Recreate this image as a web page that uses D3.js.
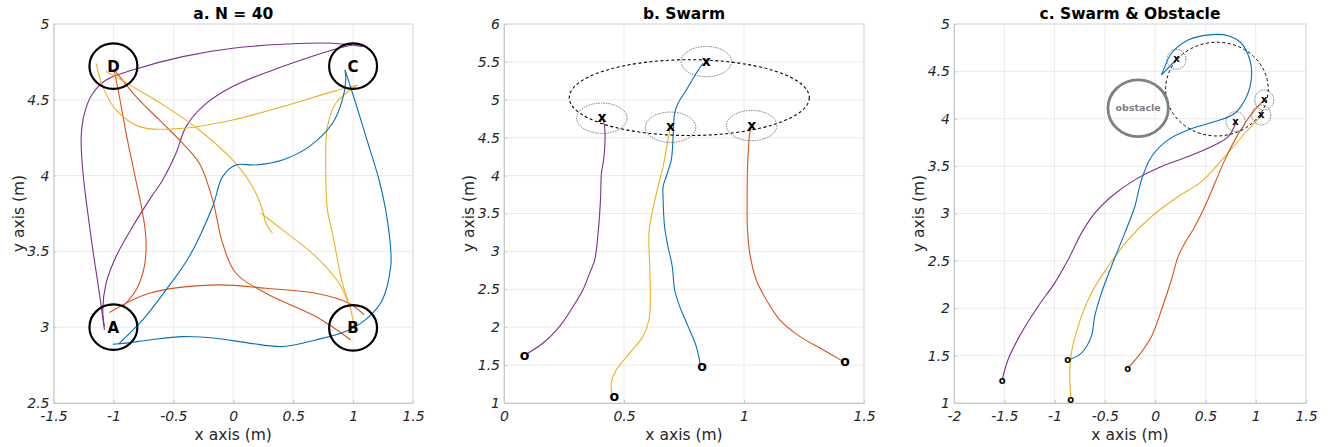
<!DOCTYPE html>
<html>
<head>
<meta charset="utf-8">
<script src="https://d3js.org/d3.v7.min.js"></script>
<style>
  body { margin: 0; background: #fff; }
  svg { font-family: "DejaVu Sans", sans-serif; }
  .tick text { font-style: italic; font-size: 14px; fill: #262626; }
</style>
</head>
<body>
<svg width="1334" height="447"></svg>
<script>
// ---- panel a: N = 40 ----
var aXTicks = [-1.5, -1, -0.5, 0, 0.5, 1, 1.5];
var aYTicks = [2.5, 3, 3.5, 4, 4.5, 5];
var aPurple1 = [[-1.075,2.982],[-1.117,3.224],[-1.172,3.51],[-1.228,3.84],[-1.256,4.037],[-1.269,4.257],[-1.242,4.411],[-1.172,4.543],[-1.061,4.631],[-0.839,4.697],[-0.422,4.785],[-0.006,4.84],[0.411,4.866],[0.828,4.873],[1.078,4.851]];
var aPurple2 = [[-1.075,3.004],[-1.089,3.114],[-1.061,3.29],[-0.978,3.466],[-0.839,3.664],[-0.7,3.84],[-0.589,3.971],[-0.478,4.147],[-0.394,4.323],[-0.256,4.455],[-0.006,4.587],[0.411,4.719],[0.828,4.829],[0.994,4.862]];
var aOrange1 = [[-0.992,4.686],[-0.95,4.521],[-0.894,4.279],[-0.825,4.015],[-0.756,3.752],[-0.728,3.576],[-0.742,3.4],[-0.811,3.246],[-0.922,3.136]];
var aOrange2 = [[-1.033,3.097],[-0.7,3.224],[-0.144,3.279],[0.272,3.257],[0.689,3.224],[0.967,3.158],[1.092,3.081]];
var aOrange3 = [[-0.992,4.697],[-0.811,4.521],[-0.617,4.367],[-0.422,4.213],[-0.283,4.081],[-0.172,3.84],[-0.089,3.554],[0.022,3.356],[0.272,3.224],[0.689,3.07],[0.981,2.916]];
var aYellow1 = [[-1.144,4.741],[-1.089,4.587],[-0.978,4.433],[-0.783,4.323],[-0.422,4.312],[-0.006,4.367],[0.411,4.455],[0.828,4.554],[1.036,4.598]];
var aYellow2 = [[-1.061,4.686],[-0.839,4.587],[-0.561,4.455],[-0.283,4.301],[-0.006,4.103],[0.161,3.927],[0.244,3.774],[0.272,3.686],[0.328,3.62]];
var aYellow3 = [[0.231,3.752],[0.411,3.642],[0.689,3.466],[0.883,3.29],[0.967,3.147]];
var aYellow4 = [[1.036,4.598],[0.856,4.477],[0.786,4.323],[0.772,4.037],[0.786,3.774],[0.828,3.62],[0.911,3.29],[0.981,3.114],[1.008,3.004]];
var aBlue1 = [[-0.95,2.895],[-0.756,3.048],[-0.561,3.246],[-0.367,3.466],[-0.172,3.796],[-0.089,3.993],[0.022,4.07],[0.189,4.07],[0.411,4.103],[0.633,4.191],[0.828,4.345],[0.911,4.499],[0.939,4.631],[0.933,4.697]];
var aBlue2 = [[0.933,4.697],[1.022,4.477],[1.133,4.191],[1.217,3.971],[1.272,3.774],[1.314,3.51],[1.314,3.4],[1.244,3.18],[1.133,3.07],[0.967,2.982],[0.689,2.916],[0.411,2.873],[0.133,2.895],[-0.144,2.927],[-0.422,2.938],[-0.7,2.916],[-0.894,2.895],[-1.006,2.888]];
var aStations = [["A",-1,3.0],["B",1,2.995],["C",1,4.722],["D",-1,4.722]];

// ---- panel b: Swarm ----
var bXTicks = [0, 0.5, 1, 1.5];
var bYTicks = [1, 1.5, 2, 2.5, 3, 3.5, 4, 4.5, 5, 5.5, 6];
var bPurple = [[0.096,1.65],[0.163,1.791],[0.232,2.011],[0.288,2.274],[0.329,2.494],[0.357,2.714],[0.378,2.889],[0.392,3.241],[0.402,3.68],[0.406,4.032],[0.415,4.207],[0.421,4.471],[0.419,4.647],[0.413,4.735]];
var bYellow = [[0.45,1.11],[0.447,1.264],[0.468,1.439],[0.524,1.659],[0.579,1.879],[0.604,2.098],[0.61,2.362],[0.607,2.801],[0.604,3.241],[0.614,3.46],[0.642,3.856],[0.663,4.12],[0.683,4.471],[0.693,4.625]];
var bBlue = [[0.818,1.505],[0.801,1.747],[0.767,2.011],[0.732,2.274],[0.711,2.494],[0.701,2.801],[0.683,3.065],[0.669,3.329],[0.663,3.68],[0.663,3.856],[0.676,3.988],[0.697,4.207],[0.704,4.471],[0.711,4.822],[0.725,4.954],[0.76,5.13],[0.801,5.35],[0.829,5.482]];
var bOrange = [[1.412,1.549],[1.329,1.703],[1.232,1.879],[1.149,2.098],[1.093,2.362],[1.051,2.626],[1.024,2.977],[1.014,3.329],[1.013,3.68],[1.014,4.032],[1.019,4.383],[1.024,4.559],[1.031,4.647]];
var bGoals = [[0.843,5.504],[0.408,4.757],[0.694,4.638],[1.032,4.66]];
var bStarts = [[0.086,1.624],[0.46,1.079],[0.825,1.475],[1.421,1.54]];
var bFormation = [0.772, 5.029, 0.5];

// ---- panel c: Swarm & Obstacle ----
var cXTicks = [-2, -1.5, -1, -0.5, 0, 0.5, 1, 1.5];
var cYTicks = [1, 1.5, 2, 2.5, 3, 3.5, 4, 4.5, 5];
var cPurple = [[-1.52,1.246],[-1.463,1.457],[-1.331,1.738],[-1.165,2.019],[-0.999,2.265],[-0.866,2.511],[-0.733,2.793],[-0.601,3.004],[-0.435,3.179],[-0.202,3.355],[0.063,3.496],[0.328,3.601],[0.561,3.707],[0.727,3.812],[0.8,3.953]];
var cYellow = [[-0.839,1.053],[-0.849,1.316],[-0.833,1.527],[-0.766,1.808],[-0.634,2.16],[-0.468,2.441],[-0.269,2.722],[-0.036,2.968],[0.229,3.179],[0.461,3.337],[0.693,3.601],[0.893,3.847],[1.049,4.023]];
var cBlue = [[-0.839,1.464],[-0.733,1.527],[-0.634,1.703],[-0.601,1.914],[-0.534,2.16],[-0.435,2.441],[-0.302,2.793],[-0.202,3.074],[-0.136,3.355],[-0.036,3.601],[0.129,3.777],[0.328,3.882],[0.594,3.97],[0.793,4.058],[0.909,4.234],[0.959,4.445],[0.942,4.62],[0.859,4.796],[0.727,4.877],[0.561,4.888],[0.328,4.831],[0.163,4.691],[0.096,4.55],[0.063,4.462]];
var cBlueTip = [[0.063,4.462],[0.206,4.62]];
var cOrange = [[-0.272,1.369],[-0.169,1.492],[-0.036,1.703],[0.063,1.984],[0.162,2.301],[0.229,2.547],[0.295,2.687],[0.395,2.863],[0.494,3.074],[0.594,3.32],[0.693,3.566],[0.793,3.777],[0.893,3.953],[0.992,4.093],[1.085,4.199]];
var cGoals = [[0.212,4.627],[1.085,4.199],[1.055,4.04],[0.8,3.97]];
var cStarts = [[-1.52,1.235],[-0.869,1.45],[-0.839,1.035],[-0.272,1.359]];
var cFormation = [0.614, 4.313, 0.51];
var cObstacle = [-0.169, 4.111, 0.3];

var colors = { blue: "#0072BD", orange: "#D95319", yellow: "#EDB120", purple: "#7E2F8E" };

var svg = d3.select("svg");
var top0 = 24, bottom0 = 403;

function makePanel(left, right, xDom, yDom, xTicks, yTicks, title) {
    var x = d3.scaleLinear().domain(xDom).range([left, right]);
    var y = d3.scaleLinear().domain(yDom).range([bottom0, top0]);
    var g = svg.append("g");
    var w = right - left, h = bottom0 - top0;

    // grid
    g.selectAll(".gx").data(xTicks).enter().append("line")
        .attr("x1", d => x(d)).attr("x2", d => x(d))
        .attr("y1", top0).attr("y2", bottom0)
        .attr("stroke", "#ebebeb").attr("stroke-width", 1);
    g.selectAll(".gy").data(yTicks).enter().append("line")
        .attr("y1", d => y(d)).attr("y2", d => y(d))
        .attr("x1", left).attr("x2", right)
        .attr("stroke", "#ebebeb").attr("stroke-width", 1);

    var xa = g.append("g").attr("transform", "translate(0," + bottom0 + ")")
        .call(d3.axisBottom(x).tickValues(xTicks).tickSizeInner(-3).tickSizeOuter(0).tickPadding(8).tickFormat(d => String(d)));
    var ya = g.append("g").attr("transform", "translate(" + left + ",0)")
        .call(d3.axisLeft(y).tickValues(yTicks).tickSizeInner(-3).tickSizeOuter(0).tickPadding(4).tickFormat(d => String(d)));
    [xa, ya].forEach(function(a) {
        a.select(".domain").attr("stroke", "#c4c4c4");
        a.selectAll(".tick line").attr("stroke", "#c4c4c4");
        a.attr("font-family", null).attr("font-size", null);
    });
    g.append("rect").attr("x", left).attr("y", top0).attr("width", w).attr("height", h)
        .attr("fill", "none").attr("stroke", "#d4d4d4").attr("stroke-width", 0.8);

    g.append("text").attr("x", (left + right) / 2).attr("y", 19)
        .attr("text-anchor", "middle").attr("font-weight", "bold").attr("font-size", "15.5px")
        .attr("fill", "#000").text(title);
    g.append("text").attr("x", (left + right) / 2).attr("y", 440)
        .attr("text-anchor", "middle").attr("font-size", "15.5px").attr("fill", "#262626")
        .text("x axis (m)");
    g.append("text").attr("transform", "translate(" + (left - 30) + "," + ((top0 + bottom0) / 2) + ") rotate(-90)")
        .attr("text-anchor", "middle").attr("font-size", "15.5px").attr("fill", "#262626")
        .text("y axis (m)");
    return { g: g, x: x, y: y };
}

function drawPath(p, pts, color) {
    var line = d3.line().x(d => p.x(d[0])).y(d => p.y(d[1])).curve(d3.curveCatmullRom.alpha(0.5));
    p.g.append("path").datum(pts).attr("d", line)
        .attr("fill", "none").attr("stroke", color).attr("stroke-width", 1.1);
}

function drawEllipse(p, cx, cy, rx, ry, stroke, width, dash) {
    p.g.append("ellipse")
        .attr("cx", p.x(cx)).attr("cy", p.y(cy))
        .attr("rx", p.x(cx + rx) - p.x(cx)).attr("ry", p.y(cy) - p.y(cy + ry))
        .attr("fill", "none").attr("stroke", stroke).attr("stroke-width", width)
        .attr("stroke-dasharray", dash);
}

function drawMarks(p, pts, label, size) {
    p.g.selectAll(null).data(pts).enter().append("text")
        .attr("x", d => p.x(d[0])).attr("y", d => p.y(d[1]))
        .attr("dy", "0.3em").attr("text-anchor", "middle")
        .attr("font-weight", "bold").attr("font-size", size).attr("fill", "#000")
        .text(label);
}

// panel a
var pa = makePanel(53.5, 413, [-1.5, 1.5], [2.5, 5], aXTicks, aYTicks, "a. N = 40");
drawPath(pa, aPurple1, colors.purple);
drawPath(pa, aPurple2, colors.purple);
drawPath(pa, aOrange1, colors.orange);
drawPath(pa, aOrange2, colors.orange);
drawPath(pa, aOrange3, colors.orange);
drawPath(pa, aYellow1, colors.yellow);
drawPath(pa, aYellow2, colors.yellow);
drawPath(pa, aYellow3, colors.yellow);
drawPath(pa, aYellow4, colors.yellow);
drawPath(pa, aBlue1, colors.blue);
drawPath(pa, aBlue2, colors.blue);
aStations.forEach(function(s) {
    drawEllipse(pa, s[1], s[2], 0.2, 0.15, "#000", 2.2, null);
});
pa.g.selectAll(null).data(aStations).enter().append("text")
    .attr("x", d => pa.x(d[1])).attr("y", d => pa.y(d[2]))
    .attr("dy", "0.36em").attr("text-anchor", "middle")
    .attr("font-weight", "bold").attr("font-size", "15px").text(d => d[0]);

// panel b
var pb = makePanel(504, 864, [0, 1.5], [1, 6], bXTicks, bYTicks, "b. Swarm");
drawPath(pb, bPurple, colors.purple);
drawPath(pb, bYellow, colors.yellow);
drawPath(pb, bBlue, colors.blue);
drawPath(pb, bOrange, colors.orange);
drawEllipse(pb, bFormation[0], bFormation[1], bFormation[2], bFormation[2], "#000", 1.1, "3,2.5");
bGoals.forEach(function(d) {
    drawEllipse(pb, d[0], d[1], 0.105, 0.2, "#6e6e6e", 0.9, "1.5,1");
});
drawMarks(pb, bGoals, "x", "14px");
drawMarks(pb, bStarts, "o", "14px");

// panel c
var pc = makePanel(954, 1306, [-2, 1.5], [1, 5], cXTicks, cYTicks, "c. Swarm & Obstacle");
drawPath(pc, cPurple, colors.purple);
drawPath(pc, cYellow, colors.yellow);
drawPath(pc, cBlue, colors.blue);
drawPath(pc, cBlueTip, colors.blue);
drawPath(pc, cOrange, colors.orange);
drawEllipse(pc, cFormation[0], cFormation[1], cFormation[2], cFormation[2] * 0.97, "#000", 1, "3,2.5");
cGoals.forEach(function(d) {
    drawEllipse(pc, d[0], d[1], 0.095, 0.105, "#6e6e6e", 0.9, "1.5,1");
});
drawEllipse(pc, cObstacle[0], cObstacle[1], cObstacle[2], cObstacle[2], "#808080", 2.8, null);
pc.g.append("text").attr("x", pc.x(cObstacle[0])).attr("y", pc.y(cObstacle[1]))
    .attr("dy", "0.3em").attr("text-anchor", "middle").attr("font-weight", "bold")
    .attr("font-size", "9.5px").attr("fill", "#808080").text("obstacle");
drawMarks(pc, cGoals, "x", "10px");
drawMarks(pc, cStarts, "o", "10px");
</script>
</body>
</html>
